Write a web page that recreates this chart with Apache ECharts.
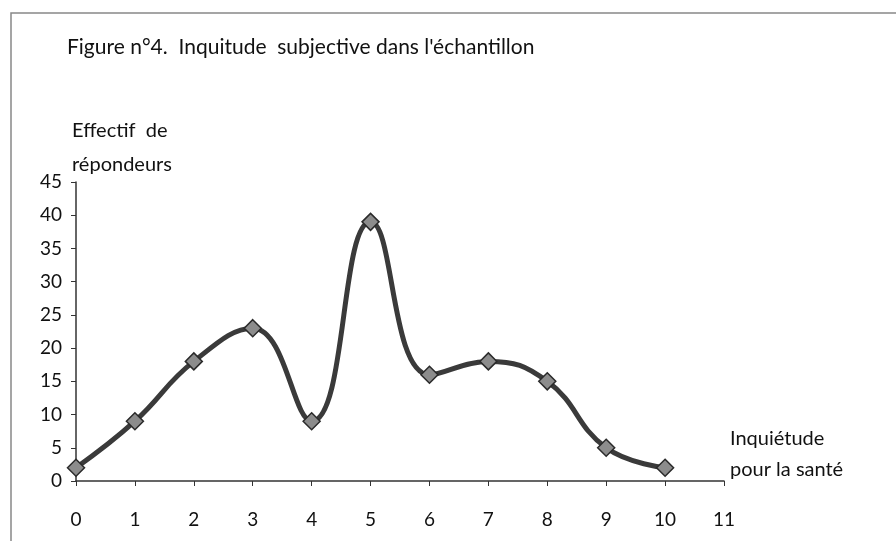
<!DOCTYPE html>
<html>
<head>
<meta charset="utf-8">
<script src="https://cdn.jsdelivr.net/npm/echarts@6/dist/echarts.min.js"></script>
<style>
  html, body { margin: 0; padding: 0; background: #fff; }
  #main { width: 896px; height: 541px; }
</style>
</head>
<body>
<div id="main"></div>
<script>
// niveau d'inquiétude (0-10) et effectif de répondeurs
var niveaux = [0, 1, 2, 3, 4, 5, 6, 7, 8, 9, 10];
var effectifs = [2, 9, 18, 23, 9, 39, 16, 18, 15, 5, 2];

var titre = "Figure n°4.  Inquitude  subjective dans l'échantillon";
var nomY = 'Effectif  de\nrépondeurs';
var nomX = 'Inquiétude\npour la santé';

var police = 'Lato, "Open Sans", sans-serif';

var chart = echarts.init(document.getElementById('main'));

var points = niveaux.map(function (n, i) { return [n, effectifs[i]]; });

var option = {
  backgroundColor: '#fff',
  animation: false,
  title: {
    text: titre,
    left: 62,
    top: 32,
    textStyle: { fontFamily: police, fontSize: 21, fontWeight: 'normal', color: '#111' }
  },
  graphic: [{
    // cadre de la figure
    type: 'rect',
    shape: { x: 11, y: 13, width: 900, height: 560 },
    style: { fill: null, stroke: '#888', lineWidth: 1.5 },
    silent: true
  }],
  grid: { left: 76, right: 172, top: 182, bottom: 60, containLabel: false },
  xAxis: {
    type: 'value',
    min: 0,
    max: 11,
    interval: 1,
    name: nomX,
    nameLocation: 'end',
    nameGap: 6,
    nameTextStyle: {
      fontFamily: police, fontSize: 20, color: '#111',
      align: 'left', verticalAlign: 'bottom', lineHeight: 31, padding: [0, 0, -4, 0]
    },
    axisLine: { lineStyle: { color: '#333', width: 1.5 } },
    axisTick: { show: true, length: 5, lineStyle: { color: '#333' } },
    axisLabel: { fontFamily: police, fontSize: 19, color: '#111', margin: 29 },
    splitLine: { show: false }
  },
  yAxis: {
    type: 'value',
    min: 0,
    max: 45,
    interval: 5,
    name: nomY,
    nameLocation: 'end',
    nameGap: 0,
    nameTextStyle: {
      fontFamily: police, fontSize: 20, color: '#111',
      align: 'left', lineHeight: 34, padding: [0, 0, 0, -4]
    },
    axisLine: { show: true, lineStyle: { color: '#333', width: 1.5 } },
    axisTick: { show: true, length: 5, lineStyle: { color: '#333' } },
    axisLabel: { fontFamily: police, fontSize: 19, color: '#111', margin: 14 },
    splitLine: { show: false }
  },
  series: [{
    type: 'line',
    data: points,
    smooth: 0.45,
    symbol: 'diamond',
    symbolSize: 17,
    lineStyle: { color: '#3a3a3a', width: 5 },
    itemStyle: { color: '#8c8c8c', borderColor: '#2a2a2a', borderWidth: 1.5 }
  }]
};

chart.setOption(option);
</script>
</body>
</html>
